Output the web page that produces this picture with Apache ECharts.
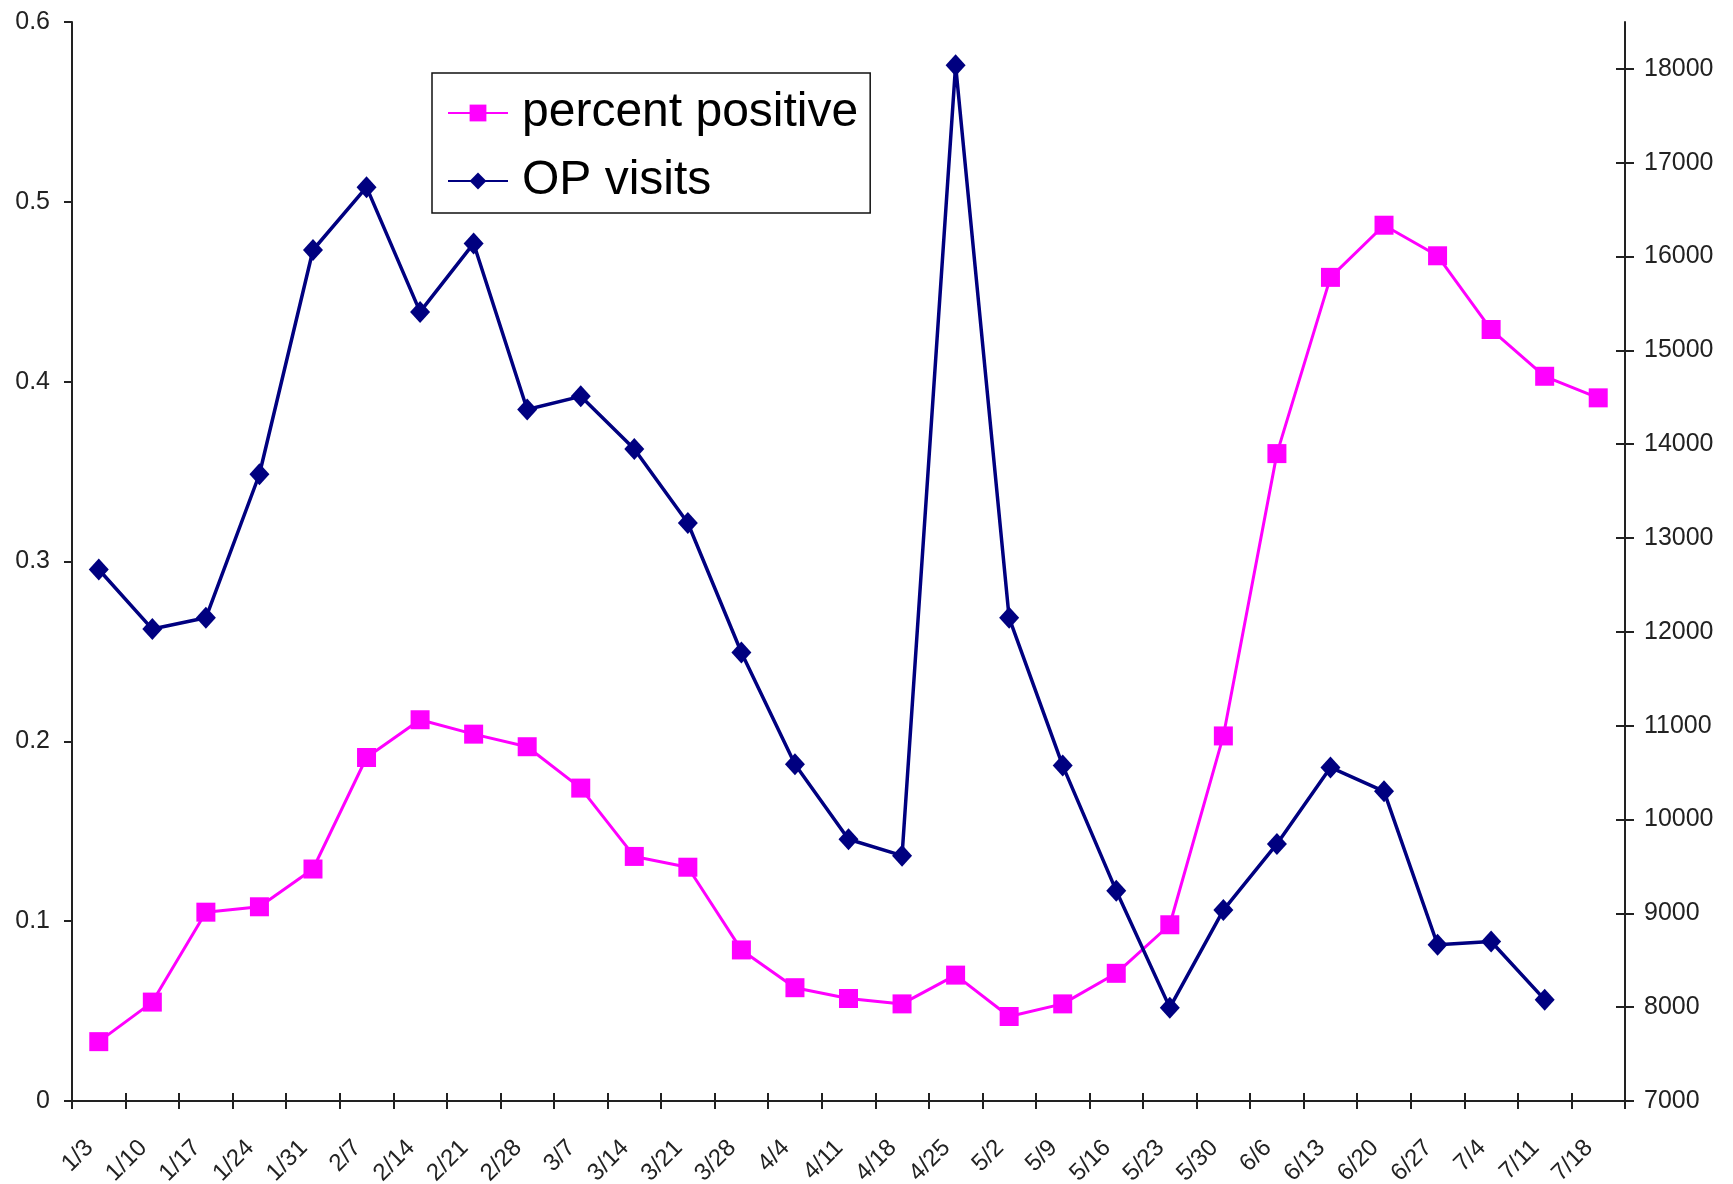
<!DOCTYPE html>
<html>
<head>
<meta charset="utf-8">
<script src="https://cdn.jsdelivr.net/npm/echarts@6/dist/echarts.min.js"></script>
<style>
html,body{margin:0;padding:0;background:#fff;}
#chart{width:1733px;height:1184px;}
</style>
</head>
<body>
<div id="chart"></div>
<script>
const categories = ['1/3','1/10','1/17','1/24','1/31','2/7','2/14','2/21','2/28','3/7','3/14','3/21','3/28','4/4','4/11','4/18','4/25','5/2','5/9','5/16','5/23','5/30','6/6','6/13','6/20','6/27','7/4','7/11','7/18'];
const percentPositive = [0.033,0.055,0.105,0.108,0.129,0.191,0.212,0.204,0.197,0.174,0.136,0.130,0.084,0.063,0.057,0.054,0.070,0.047,0.054,0.071,0.098,0.203,0.360,0.458,0.487,0.470,0.429,0.403,0.391];
const opVisits = [12665,12030,12150,13680,16070,16740,15410,16140,14370,14510,13950,13160,11780,10590,9790,9615,18040,12150,10575,9240,7995,9035,9740,10555,10300,8665,8700,8080,null];
const leftTicks = [0,0.1,0.2,0.3,0.4,0.5,0.6];
const rightTicks = [7000,8000,9000,10000,11000,12000,13000,14000,15000,16000,17000,18000];

const axisColor = '#222';
const font = 'Liberation Sans, Arial, sans-serif';
const chart = echarts.init(document.getElementById('chart'));
chart.setOption({
  backgroundColor: '#fff',
  animation: false,
  grid: {left: 72, right: 108, top: 22, bottom: 83, containLabel: false, outerBoundsMode: 'none'},
  legend: {
    orient: 'vertical',
    left: 432, top: 73,
    padding: [13, 12, 5, 15],
    itemGap: 14,
    itemWidth: 60, itemHeight: 21,
    borderColor: '#111', borderWidth: 1.5,
    backgroundColor: '#fff',
    textStyle: {fontFamily: font, fontSize: 48, color: '#000', lineHeight: 54, padding: [0, 0, 0, 9]},
    data: ['percent positive', 'OP visits']
  },
  xAxis: [{
    type: 'category', data: categories, boundaryGap: true,
    axisLine: {lineStyle: {color: axisColor, width: 2}},
    axisTick: {show: true, length: 8, inside: false, lineStyle: {color: axisColor, width: 2}},
    axisLabel: {rotate: 45, fontFamily: font, fontSize: 24, color: '#222', margin: 17, interval: 0,
      verticalAlign: 'top', padding: [0, 25, 0, 0]},
    splitLine: {show: false}
  }, {
    type: 'category', data: categories, boundaryGap: true, position: 'bottom',
    axisLine: {show: false},
    axisTick: {show: true, length: 8, inside: true, lineStyle: {color: axisColor, width: 2}},
    axisLabel: {show: false},
    splitLine: {show: false}
  }],
  yAxis: [{
    type: 'value', position: 'left', min: 0, max: 0.6, interval: 0.1,
    axisLine: {show: true, lineStyle: {color: axisColor, width: 2}},
    axisTick: {show: true, length: 8, lineStyle: {color: axisColor, width: 2}},
    axisLabel: {fontFamily: font, fontSize: 25, color: '#222', margin: 22,
      customValues: leftTicks,
      formatter: v => (Math.round(v * 10) / 10).toString()},
    splitLine: {show: false}
  }, {
    type: 'value', position: 'right', min: 7000, max: 18500, interval: 1000,
    axisLine: {show: true, lineStyle: {color: axisColor, width: 2}},
    axisTick: {show: true, length: 9, customValues: rightTicks, lineStyle: {color: axisColor, width: 2}},
    axisLabel: {fontFamily: font, fontSize: 25, color: '#222', margin: 19, customValues: rightTicks,
      formatter: v => String(Math.round(v))},
    splitLine: {show: false}
  }, {
    type: 'value', position: 'right', min: 7000, max: 18500, interval: 1000,
    axisLine: {show: false},
    axisTick: {show: true, inside: true, length: 9, customValues: rightTicks, lineStyle: {color: axisColor, width: 2}},
    axisLabel: {show: false},
    splitLine: {show: false}
  }],
  series: [{
    name: 'percent positive', type: 'line', yAxisIndex: 0, xAxisIndex: 0,
    data: percentPositive,
    symbol: 'rect', symbolSize: 19,
    lineStyle: {color: '#FF00FF', width: 3},
    itemStyle: {color: '#FF00FF'}
  }, {
    name: 'OP visits', type: 'line', yAxisIndex: 1, xAxisIndex: 0,
    data: opVisits,
    symbol: 'diamond', symbolSize: [20, 22],
    connectNulls: false,
    lineStyle: {color: '#000080', width: 3.5},
    itemStyle: {color: '#000080'}
  }]
});
</script>
</body>
</html>
